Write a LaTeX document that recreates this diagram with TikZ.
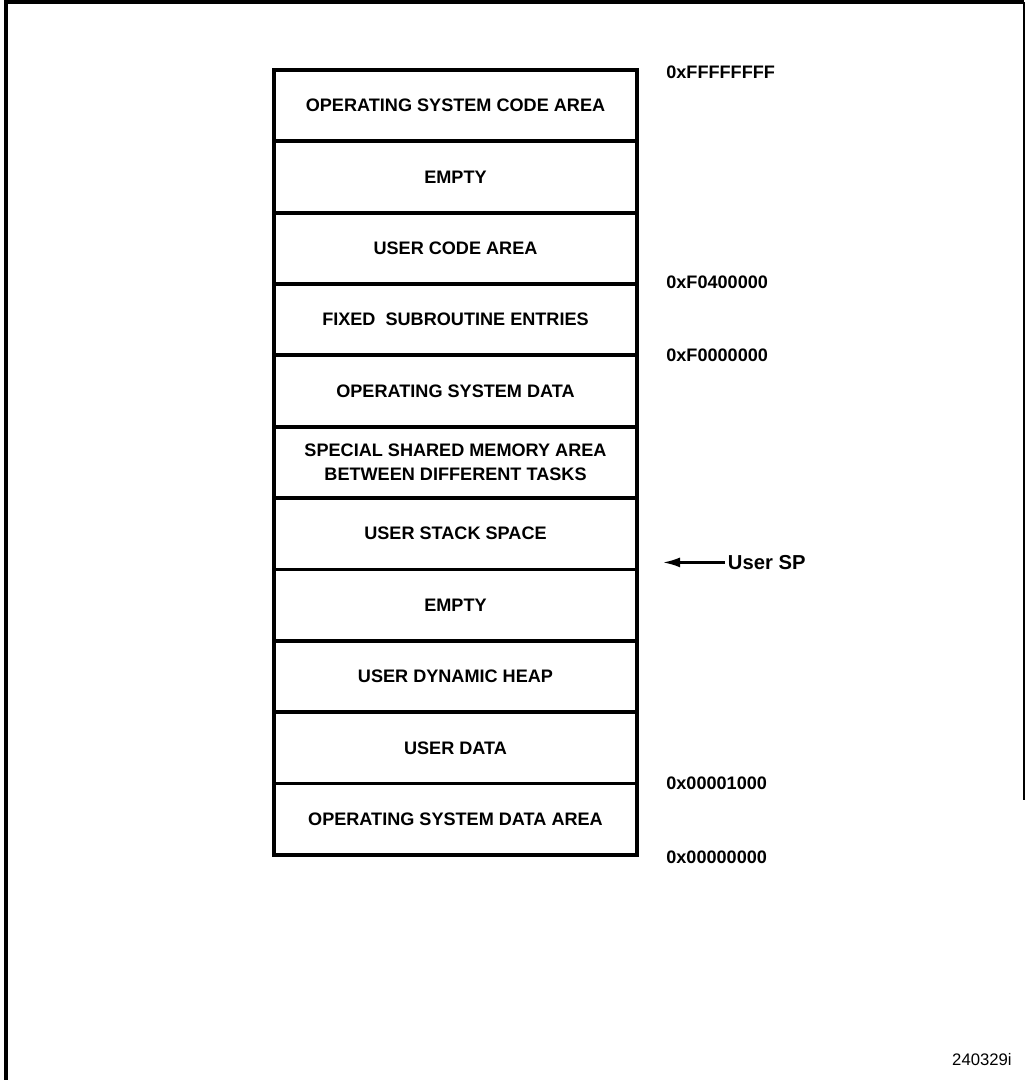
\documentclass[tikz,border=0pt]{standalone}
\usepackage{fontspec}
\setmainfont{Liberation Sans}
\usetikzlibrary{arrows.meta,calc,positioning}

\begin{document}
\begin{tikzpicture}[
  row/.style={draw, line width=2.2pt, outer sep=0pt, inner sep=0pt,
    minimum width=7.26cm, minimum height=1.427cm, align=center,
    font=\fontsize{10.3}{13.7}\selectfont\bfseries},
  addr/.style={anchor=west, inner sep=0pt, font=\fontsize{10.3}{12}\selectfont\bfseries}
]
\useasboundingbox (0,0) rectangle (20.5,21.6);
% page frame
\draw[line width=1.8pt] (0.12,0) -- (0.12,21.56) -- (20.48,21.56);
\draw[line width=0.8pt] (20.48,21.56) -- (20.48,5.6);

% memory map
\node[row] (oscode) at (9.11,19.4865) {OPERATING SYSTEM CODE AREA};
\node[row, below=0pt of oscode] (empty1) {EMPTY};
\node[row, below=0pt of empty1] (usercode) {USER CODE AREA};
\node[row, below=0pt of usercode] (fixsub) {FIXED\ \ SUBROUTINE ENTRIES};
\node[row, below=0pt of fixsub] (osdata) {OPERATING SYSTEM DATA};
\node[row, below=0pt of osdata] (shared) {SPECIAL SHARED MEMORY AREA\\BETWEEN DIFFERENT TASKS};
\node[row, below=0pt of shared] (stack) {USER STACK SPACE};
\node[row, below=0pt of stack] (empty2) {EMPTY};
\node[row, below=0pt of empty2] (heap) {USER DYNAMIC HEAP};
\node[row, below=0pt of heap] (userdata) {USER DATA};
\node[row, below=0pt of userdata] (osdataarea) {OPERATING SYSTEM DATA AREA};

% addresses
\node[addr] (atop) at ($(oscode.north east)+(0.58,-0.04)$) {0xFFFFFFFF};
\node[addr] (af04) at ($(fixsub.north east)+(0.58,0.04)$) {0xF0400000};
\node[addr] (af00) at ($(fixsub.south east)+(0.58,0)$) {0xF0000000};
\node[addr] (a1000) at ($(osdataarea.north east)+(0.58,0)$) {0x00001000};
\node[addr] (azero) at ($(osdataarea.south east)+(0.58,-0.04)$) {0x00000000};

% stack pointer
\node[anchor=west, inner sep=1.5pt, font=\fontsize{11.5}{13}\selectfont\bfseries] (usersp)
  at ($(stack.south east)+(1.76,0.14)$) {User SP};
\coordinate (sptip) at ($(stack.south east)+(0.52,0.14)$);
\draw[line width=1.3pt, -{Latex[length=0.34cm,width=0.2cm]}] (usersp.west) -- (sptip);

\node[anchor=east, inner sep=0pt, font=\fontsize{9.5}{11}\selectfont] (figid) at (20.24,0.4) {240329i};
\end{tikzpicture}
\end{document}
